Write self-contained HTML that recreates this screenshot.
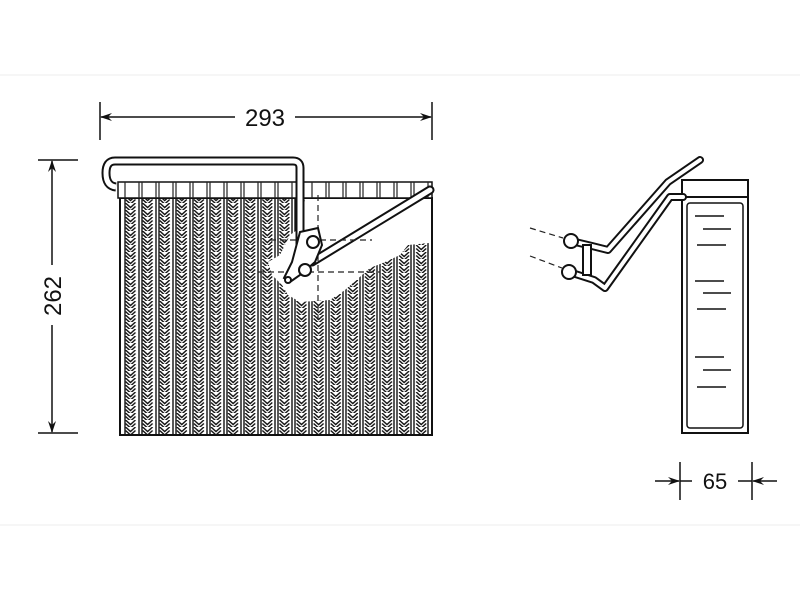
<!DOCTYPE html>
<html><head><style>body{margin:0;background:#fff}svg{display:block}</style></head><body>
<svg width="800" height="600" viewBox="0 0 800 600" xmlns="http://www.w3.org/2000/svg" font-family="Liberation Sans, sans-serif">
<defs>
<pattern id="zz" x="122" y="0" width="17.1" height="7" patternUnits="userSpaceOnUse">
<path d="M3.5,0 L8.5,4.5 L13.5,0 M3.5,3.5 L8.5,8 L13.5,3.5" fill="none" stroke="#111" stroke-width="1.4"/>
</pattern>
<marker id="ar" markerWidth="12" markerHeight="8" refX="11" refY="4" orient="auto" markerUnits="userSpaceOnUse"><path d="M0,0 L12,4 L0,8 L4,4 Z" fill="#111"/></marker>
</defs>
<line x1="0" y1="75" x2="800" y2="75" stroke="#eee"/>
<line x1="0" y1="525" x2="800" y2="525" stroke="#eee"/>

<!-- dimension 293 -->
<line x1="100" y1="102" x2="100" y2="140" stroke="#111" stroke-width="1.5"/>
<line x1="432" y1="102" x2="432" y2="140" stroke="#111" stroke-width="1.5"/>
<line x1="235" y1="117" x2="101" y2="117" stroke="#111" stroke-width="1.5" marker-end="url(#ar)"/>
<line x1="295" y1="117" x2="431" y2="117" stroke="#111" stroke-width="1.5" marker-end="url(#ar)"/>
<text x="265" y="126" font-size="24" text-anchor="middle" fill="#111">293</text>
<!-- dimension 262 -->
<line x1="38" y1="160" x2="78" y2="160" stroke="#111" stroke-width="1.5"/>
<line x1="38" y1="433" x2="78" y2="433" stroke="#111" stroke-width="1.5"/>
<line x1="52" y1="265" x2="52" y2="161" stroke="#111" stroke-width="1.5" marker-end="url(#ar)"/>
<line x1="52" y1="325" x2="52" y2="432" stroke="#111" stroke-width="1.5" marker-end="url(#ar)"/>
<text x="0" y="0" font-size="24" text-anchor="middle" fill="#111" transform="translate(61,296) rotate(-90)">262</text>

<!-- main core -->
<rect x="120" y="198" width="312" height="237" fill="url(#zz)" stroke="#111" stroke-width="2"/>
<g stroke="#111" stroke-width="1.4">
<path d="M125,198V435M139,198V435M142,198V435M156,198V435M159,198V435M173,198V435M176,198V435M190,198V435M193,198V435M207,198V435M210,198V435M224,198V435M227,198V435M241,198V435M244,198V435M258,198V435M261,198V435M275,198V435M278,198V435M292,198V435M295,198V435M309,198V435M312,198V435M326,198V435M329,198V435M343,198V435M346,198V435M360,198V435M363,198V435M377,198V435M380,198V435M394,198V435M397,198V435M411,198V435M414,198V435M428,198V435"/>
</g>
<!-- white cutout regions -->
<path d="M305,199 L429,199 L429,243 L408,245 L400,255 L385,262 L370,268 L345,290 L330,300 L300,302 L288,295 L282,285 L272,275 L268,262 L280,255 L290,235 L300,228 Z" fill="#fff"/>
<!-- header -->
<rect x="118" y="182" width="314" height="16" fill="#fff" stroke="#111" stroke-width="1.5"/>
<g stroke="#222" stroke-width="1.2">
<path d="M125,182V198M139,182V198M142,182V198M156,182V198M159,182V198M173,182V198M176,182V198M190,182V198M193,182V198M207,182V198M210,182V198M224,182V198M227,182V198M241,182V198M244,182V198M258,182V198M261,182V198M275,182V198M278,182V198M292,182V198M312,182V198M326,182V198M329,182V198M343,182V198M346,182V198M360,182V198M363,182V198M377,182V198M380,182V198M394,182V198M397,182V198M411,182V198M414,182V198M428,182V198"/>
</g>
<!-- top loop pipe -->
<path d="M300,245 V168 Q300,161 293,161 H115 Q106,161 106,173 Q106,186 116,187" fill="none" stroke="#111" stroke-width="9" stroke-linejoin="round"/>
<path d="M300,245 V168 Q300,161 293,161 H115 Q106,161 106,173 Q106,186 116,187" fill="none" stroke="#fff" stroke-width="5" stroke-linejoin="round"/>
<!-- diagonal pipe -->
<line x1="312" y1="262" x2="430" y2="190" stroke="#111" stroke-width="9" stroke-linecap="round"/>
<line x1="312" y1="262" x2="430" y2="190" stroke="#fff" stroke-width="5" stroke-linecap="round"/>
<!-- dashed lines -->
<g stroke="#222" stroke-width="1.2" stroke-dasharray="6,4" fill="none">
<line x1="270" y1="240" x2="372" y2="240"/>
<line x1="258" y1="272" x2="380" y2="272"/>
<line x1="318" y1="195" x2="318" y2="320"/>
</g>
<!-- fittings -->
<g fill="#fff" stroke="#111" stroke-width="2">
<path d="M300,232 L318,228 L322,245 L315,262 L300,275 L290,282 L284,278 L292,262 Z"/>
<circle cx="313" cy="242" r="6"/>
<circle cx="305" cy="270" r="6"/>
<circle cx="288" cy="280" r="3"/>
</g>

<!-- side view -->
<rect x="682" y="180" width="66" height="253" fill="#fff" stroke="#111" stroke-width="2"/>
<line x1="682" y1="197" x2="748" y2="197" stroke="#111" stroke-width="2"/>
<rect x="687" y="203" width="56" height="225" rx="3" fill="#fff" stroke="#111" stroke-width="1.5"/>
<g stroke="#111" stroke-width="1.5">
<path d="M695,216H724M703,229H731M697,245H726M695,281H724M703,293H731M697,309H726M695,357H724M703,370H731M697,387H726"/>
</g>
<!-- side pipes -->
<g fill="none" stroke-linejoin="round" stroke-linecap="round">
<path d="M571,241 L592,246 L608,250 L668,182 L700,160" stroke="#111" stroke-width="8"/>
<path d="M571,241 L592,246 L608,250 L668,182 L700,160" stroke="#fff" stroke-width="4"/>
<path d="M569,272 L594,280 L605,288 L670,197 L683,197" stroke="#111" stroke-width="8"/>
<path d="M569,272 L594,280 L605,288 L670,197 L683,197" stroke="#fff" stroke-width="4"/>
</g>
<g fill="#fff" stroke="#111" stroke-width="2">
<rect x="583" y="245" width="8" height="30"/>
<circle cx="571" cy="241" r="7"/>
<circle cx="569" cy="272" r="7"/>
</g>
<g stroke="#222" stroke-width="1.2" stroke-dasharray="6,4">
<line x1="530" y1="228" x2="563" y2="238"/>
<line x1="530" y1="256" x2="562" y2="268"/>
</g>
<!-- dimension 65 -->
<line x1="680" y1="462" x2="680" y2="500" stroke="#111" stroke-width="1.5"/>
<line x1="752" y1="462" x2="752" y2="500" stroke="#111" stroke-width="1.5"/>
<line x1="655" y1="481" x2="679" y2="481" stroke="#111" stroke-width="1.5" marker-end="url(#ar)"/>
<line x1="777" y1="481" x2="753" y2="481" stroke="#111" stroke-width="1.5" marker-end="url(#ar)"/>
<line x1="680" y1="481" x2="692" y2="481" stroke="#111" stroke-width="1.5"/>
<line x1="738" y1="481" x2="752" y2="481" stroke="#111" stroke-width="1.5"/>
<text x="715" y="489" font-size="22" text-anchor="middle" fill="#111">65</text>
</svg>
</body></html>
